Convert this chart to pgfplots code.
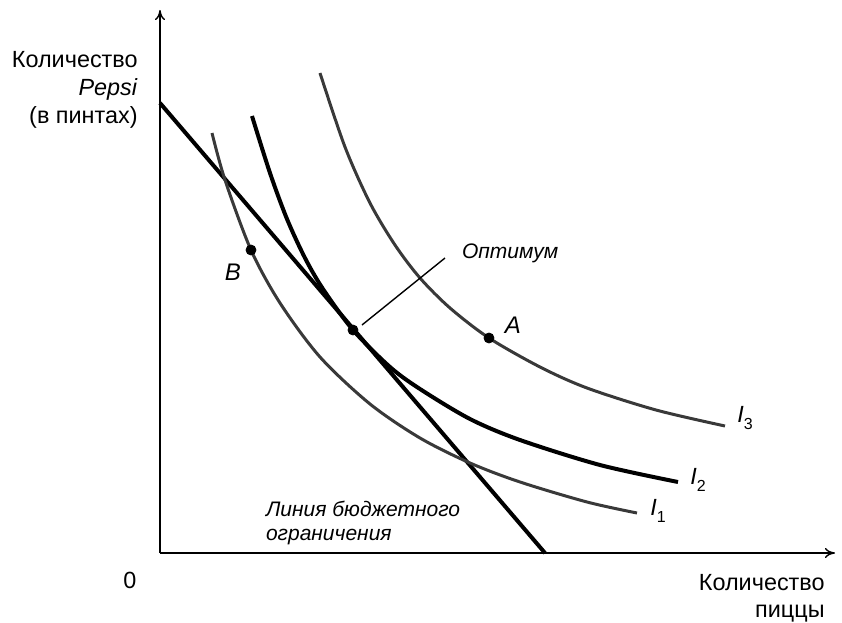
\documentclass[border=0pt]{standalone}
\usepackage{fontspec}
\setmainfont{Liberation Sans}
\usepackage{pgfplots}
\pgfplotsset{compat=1.18}
\usetikzlibrary{arrows.meta}
\begin{document}
\begin{tikzpicture}
  \begin{axis}[
      scale only axis,
      width=337.5pt, height=271.5pt,
      xmin=0, xmax=675, ymin=0, ymax=543,
      axis x line=bottom, axis y line=left,
      axis line style={line width=0.7pt, -{To[length=5pt,width=5pt]}},
      xtick=\empty, ytick=\empty,
      clip=false,
      font=\fontsize{11.7}{13.5}\selectfont,
    ]
    % full page frame (pixels of the reference)
    \path (axis cs:-160,-67) rectangle (axis cs:682,553);
    % budget line
    \addplot[black, line width=2pt] coordinates {(0,450) (385,0)};
    % I1
    \addplot[gray!45!black, line width=1.5pt, smooth] coordinates {
      (52,420) (65,373) (91,303) (120,250) (160,196) (210,149)
      (260,115) (310,90) (360,71) (427,51) (477,40)};
    % I2
    \addplot[black, line width=2pt, smooth] coordinates {
      (92,437) (110,380) (127,334) (145,295) (163,264) (193,223)
      (230,186) (260,164) (310,134) (360,113) (440,88) (518,71)};
    % I3
    \addplot[gray!45!black, line width=1.5pt, smooth] coordinates {
      (160,480) (185,406) (210,350) (235,308) (260,275) (290,245)
      (329,215) (380,186) (427,165) (496,143) (565,127)};
    % points
    \addplot[only marks, mark=*, mark size=2.5pt, black] coordinates {
      (91,303) (193,223) (329,215)};
    % leader line for the optimum
    \draw[line width=0.7pt] (axis cs:202,228) -- (axis cs:285,295);
    \node[anchor=west, font=\fontsize{10.5}{13}\selectfont\itshape] at (axis cs:295,300) {Оптимум};
    \node[font=\fontsize{12}{13}\selectfont\itshape] at (axis cs:73,281) {B};
    \node[font=\fontsize{12}{13}\selectfont\itshape] at (axis cs:353,228) {A};
    \node at (axis cs:585,135) {\textit{I}\raisebox{-0.5ex}{\footnotesize 3}};
    \node at (axis cs:538,73) {\textit{I}\raisebox{-0.5ex}{\footnotesize 2}};
    \node at (axis cs:498,42) {\textit{I}\raisebox{-0.5ex}{\footnotesize 1}};
    \node[anchor=north west, align=left, font=\fontsize{10.5}{12}\selectfont\itshape] at (axis cs:99,59)
      {Линия бюджетного\\ограничения};
    \node at (axis cs:-30,-27) {0};
    \node[anchor=north east, align=right, inner sep=0pt] at (axis cs:665,-21) {Количество\\пиццы};
    \node[anchor=north east, align=right, inner sep=0pt, font=\fontsize{11.7}{14}\selectfont] at (axis cs:-22,502) {Количество\\\textit{Pepsi}\\(в пинтах)};
  \end{axis}
\end{tikzpicture}
\end{document}
